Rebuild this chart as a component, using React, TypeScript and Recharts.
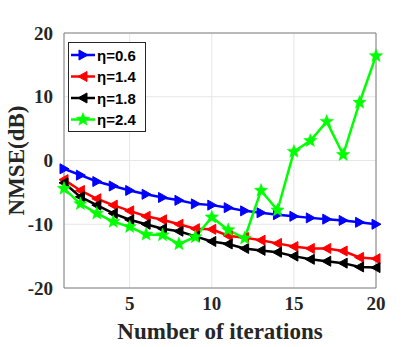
import React from "react";
import {
  LineChart,
  Line,
  XAxis,
  YAxis,
  CartesianGrid,
  ReferenceArea,
} from "recharts";

const iterations = [1, 2, 3, 4, 5, 6, 7, 8, 9, 10, 11, 12, 13, 14, 15, 16, 17, 18, 19, 20];
const eta06 = [-1.3, -2.3, -3.3, -4.0, -4.7, -5.3, -5.8, -6.25, -6.8, -7.0, -7.4, -7.9, -8.2, -8.5, -8.75, -9.0, -9.2, -9.4, -9.7, -10.0];
const eta14 = [-3.0, -4.7, -6.0, -7.0, -7.9, -8.75, -9.3, -10.0, -10.7, -10.8, -11.8, -12.1, -12.5, -13.0, -13.5, -13.8, -13.8, -14.2, -15.2, -15.4];
const eta18 = [-3.5, -5.7, -7.0, -8.3, -9.3, -10.0, -10.7, -11.1, -11.9, -12.7, -13.1, -13.8, -14.1, -14.4, -15.0, -15.5, -15.8, -16.1, -16.7, -16.8];
const eta24 = [-4.4, -6.8, -8.3, -9.6, -10.4, -11.6, -11.7, -13.1, -12.0, -8.9, -10.9, -12.2, -4.7, -7.8, 1.4, 3.1, 6.1, 0.9, 9.1, 16.4];
const xTicks = [5, 10, 15, 20];
const yTicks = [-20, -10, 0, 10, 20];

const data = iterations.map((it, i) => ({
  it,
  a: eta06[i],
  b: eta14[i],
  c: eta18[i],
  d: eta24[i],
}));

const SERIES = [
  { key: "a", label: "η=0.6", color: "#0000ff", marker: "right" },
  { key: "b", label: "η=1.4", color: "#ff0000", marker: "left" },
  { key: "c", label: "η=1.8", color: "#000000", marker: "left" },
  { key: "d", label: "η=2.4", color: "#00ff00", marker: "star" },
];

function starPath(cx: number, cy: number, R: number, r: number) {
  let d = "";
  for (let i = 0; i < 10; i++) {
    const rad = i % 2 === 0 ? R : r;
    const ang = -Math.PI / 2 + (i * Math.PI) / 5;
    d += (i === 0 ? "M" : "L") + (cx + rad * Math.cos(ang)).toFixed(2) + "," + (cy + rad * Math.sin(ang)).toFixed(2);
  }
  return d + "Z";
}

function Marker({ cx, cy, color, marker }: { cx: number; cy: number; color: string; marker: string }) {
  if (cx == null || cy == null) return null;
  if (marker === "right") {
    return <path d={`M${cx - 4},${cy - 5}L${cx + 5},${cy}L${cx - 4},${cy + 5}Z`} fill={color} stroke={color} />;
  }
  if (marker === "left") {
    return <path d={`M${cx + 4},${cy - 5}L${cx - 5},${cy}L${cx + 4},${cy + 5}Z`} fill={color} stroke={color} />;
  }
  return <path d={starPath(cx, cy, 7, 3)} fill={color} stroke={color} strokeWidth={0.5} />;
}

const tickStyle = { fontFamily: "'Liberation Serif', 'Times New Roman', serif", fontWeight: 700, fontSize: 19, fill: "#262626" };

export default function App() {
  return (
    <div style={{ position: "fixed", left: 0, top: 0, width: 415, height: 347, background: "#fff" }}>
      <LineChart width={415} height={347} data={data} margin={{ top: 33, right: 39, bottom: 0, left: 0 }}>
        <CartesianGrid stroke="#e6e6e6" strokeWidth={1} />
        <XAxis
          dataKey="it"
          type="number"
          domain={[1, 20]}
          ticks={xTicks}
          tick={tickStyle}
          tickLine={false}
          axisLine={false}
          height={59}
          tickMargin={3}
          label={{ value: "Number of iterations", position: "insideBottom", offset: 8, style: { ...tickStyle, fontSize: 23, fill: "#262626" } }}
        />
        <YAxis
          type="number"
          domain={[-20, 20]}
          ticks={yTicks}
          tick={tickStyle}
          tickLine={false}
          axisLine={false}
          width={64}
          tickMargin={5}
          label={{ value: "NMSE(dB)", angle: -90, position: "insideLeft", offset: 16, style: { ...tickStyle, fontSize: 23, textAnchor: "middle" } }}
        />
        <ReferenceArea x1={1} x2={20} y1={-20} y2={20} fill="none" stroke="#808080" strokeWidth={1} ifOverflow="visible" />
        {SERIES.map((s) => (
          <Line
            key={s.key}
            dataKey={s.key}
            stroke={s.color}
            strokeWidth={2.5}
            isAnimationActive={false}
            dot={(p: any) => <Marker key={`${s.key}-${p.index}`} cx={p.cx} cy={p.cy} color={s.color} marker={s.marker} />}
            activeDot={false}
          />
        ))}
      </LineChart>
      <div
        style={{
          position: "absolute",
          left: 68,
          top: 42,
          width: 78,
          height: 90,
          border: "1px solid #262626",
          background: "#fff",
          boxSizing: "border-box",
        }}
      >
        <svg width={78} height={90} style={{ position: "absolute", left: 0, top: 0 }}>
          {SERIES.map((s, i) => {
            const y = 12 + i * 21.5;
            return (
              <g key={s.key}>
                <line x1={2} x2={26} y1={y} y2={y} stroke={s.color} strokeWidth={2.5} />
                <Marker cx={14} cy={y} color={s.color} marker={s.marker} />
                <text
                  x={28}
                  y={y + 5.5}
                  style={{ fontFamily: "'Liberation Sans', Arial, sans-serif", fontWeight: 700, fontSize: 15, fill: "#000" }}
                >
                  {s.label}
                </text>
              </g>
            );
          })}
        </svg>
      </div>
    </div>
  );
}
